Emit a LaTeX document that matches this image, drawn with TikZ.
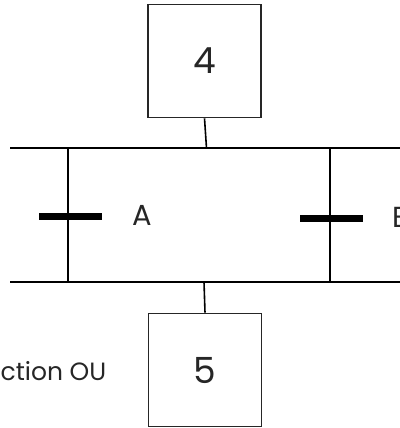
\documentclass[tikz,border=0pt]{standalone}
\usepackage{fontspec}
\setmainfont{Poppins}
\usetikzlibrary{positioning}

\begin{document}
\begin{tikzpicture}[x=1pt,y=-1pt,line width=1.6pt,
  every node/.style={text=black!85},
  etape/.style={draw=black!85,minimum size=113pt,inner sep=0pt,font=\fontsize{36}{36}\selectfont},
  trans/.style={fill=black,minimum width=63pt,minimum height=7pt,inner sep=0pt},
  lettre/.style={font=\fontsize{29}{29}\selectfont}]
  \useasboundingbox (0,0) rectangle (399,428);
  \node[etape] (E4) at (204.5,61) {4};
  \node[etape] (E5) at (205,370) {5};
  % lignes de la divergence et convergence
  \coordinate (HG) at (10,148);
  \coordinate (HD) at (410,148);
  \coordinate (BG) at (10,282);
  \coordinate (BD) at (410,282);
  \coordinate (H4) at (206.5,148);
  \coordinate (B5) at (204,282);
  \coordinate (HA) at (68,148);
  \coordinate (BA) at (68,282);
  \coordinate (HB) at (330,148);
  \coordinate (BB) at (330,282);
  \draw (HG) -- (HD);
  \draw (BG) -- (BD);
  \draw (E4.south) -- (H4);
  \draw (B5) -- (E5.north);
  \draw (HA) -- (BA);
  \draw (HB) -- (BB);
  \node[trans] (tA) at (70.5,216) {};
  \node[trans] (tB) at (331.5,218) {};
  \node[lettre,anchor=west] (lA) at (128,215) {A};
  \node[lettre,anchor=west] (lB) at (388,217) {B};
  \node[lettre,anchor=east,inner sep=0pt,font=\fontsize{25}{25}\selectfont] (OU) at (107,371) {ction OU};
\end{tikzpicture}
\end{document}
